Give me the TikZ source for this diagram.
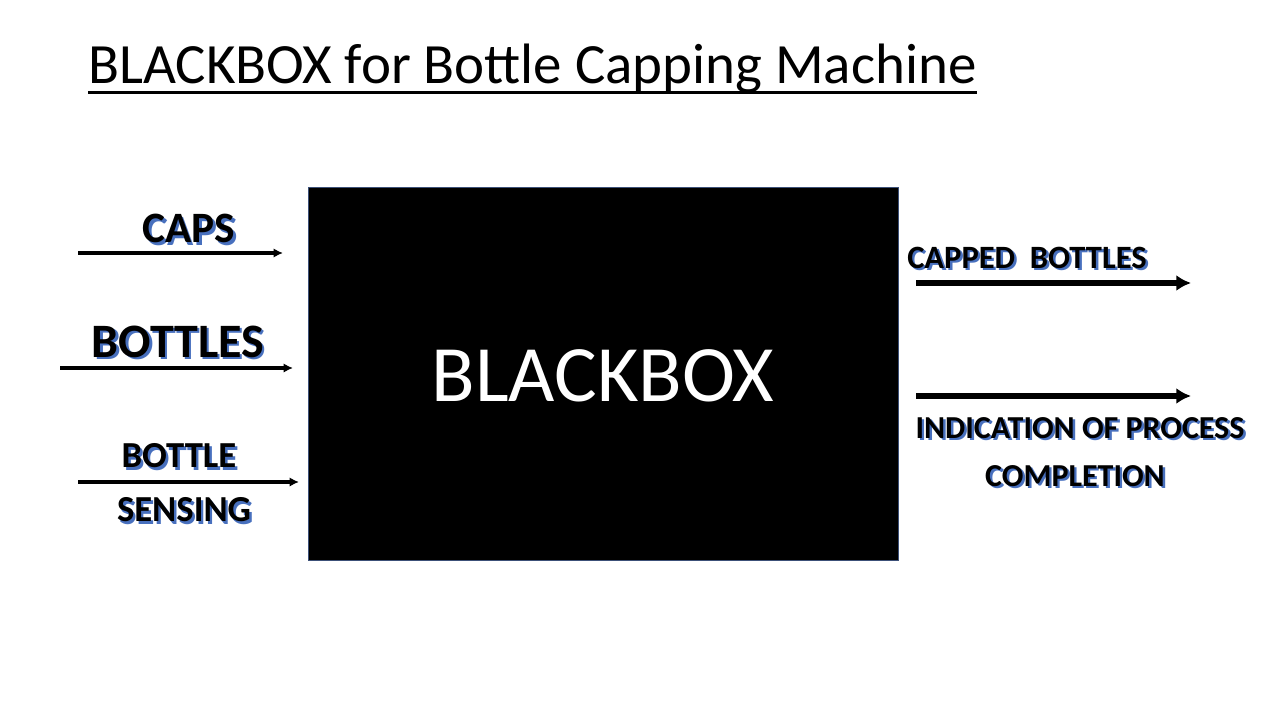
\documentclass[tikz,border=0pt]{standalone}
\usepackage{fontspec}
\setmainfont{Carlito}
\usetikzlibrary{arrows.meta}
\definecolor{glowblue}{RGB}{72,112,190}
\definecolor{boxedge}{RGB}{60,80,120}
\newcommand{\glowtext}[1]{\makebox[0pt][l]{\hspace{1.8pt}\raisebox{-1.8pt}{\textcolor{glowblue}{#1}}}#1}

\begin{document}
\begin{tikzpicture}[
        x=0.75pt, y=-0.75pt,
        every node/.style={inner sep=0pt},
        lbl/.style={font=\bfseries\fontsize{#1}{#1}\selectfont, anchor=center},
        lbl/.default=24,
        flow/.style={line width=3pt, -{Latex[length=7pt,width=7pt]}},
        bigflow/.style={line width=5pt, -{Latex[length=11pt,width=12pt]}}
    ]
        \useasboundingbox (0,0) rectangle (1280,720);

        \node[anchor=base west, font=\fontsize{42.7}{42.7}\selectfont] (title) at (88,84) {BLACKBOX for Bottle Capping Machine};
        \draw[line width=2.2pt] ([yshift=-6.5pt]title.base west) -- ([yshift=-6.5pt]title.base east);

        \node[draw=boxedge, fill=black, minimum width=442.5pt, minimum height=279.75pt] (box) at (603,373.5) {};
        \node[text=white, font=\fontsize{60}{60}\selectfont] (boxlbl) at (603,376) {BLACKBOX};

        % inputs
        \node[lbl=32.5] (caps) at (189,230) {\glowtext{CAPS}};
        \node[lbl=36] (bottles) at (178,343) {\glowtext{BOTTLES}};
        \node[lbl=27.5] (bottle) at (179,457) {\glowtext{BOTTLE}};
        \node[lbl=27.5] (sensing) at (184,511) {\glowtext{SENSING}};

        \coordinate (capsA) at (78,253);   \coordinate (capsB) at (283,253);
        \coordinate (botA) at (60,368);    \coordinate (botB) at (293,368);
        \coordinate (senA) at (78,482);    \coordinate (senB) at (299,482);
        \draw[flow] (capsA) -- (capsB);
        \draw[flow] (botA) -- (botB);
        \draw[flow] (senA) -- (senB);

        % outputs
        \node[lbl=24.4] (capped) at (1027,259) {\glowtext{CAPPED~~BOTTLES}};
        \node[lbl=24] (indic) at (1080,429) {\glowtext{INDICATION OF PROCESS}};
        \node[lbl=24] (compl) at (1075,477) {\glowtext{COMPLETION}};

        \coordinate (capA) at (916,283);   \coordinate (capB) at (1191,283);
        \coordinate (indA) at (916,396);   \coordinate (indB) at (1191,396);
        \draw[bigflow] (capA) -- (capB);
        \draw[bigflow] (indA) -- (indB);
    \end{tikzpicture}
\end{document}
